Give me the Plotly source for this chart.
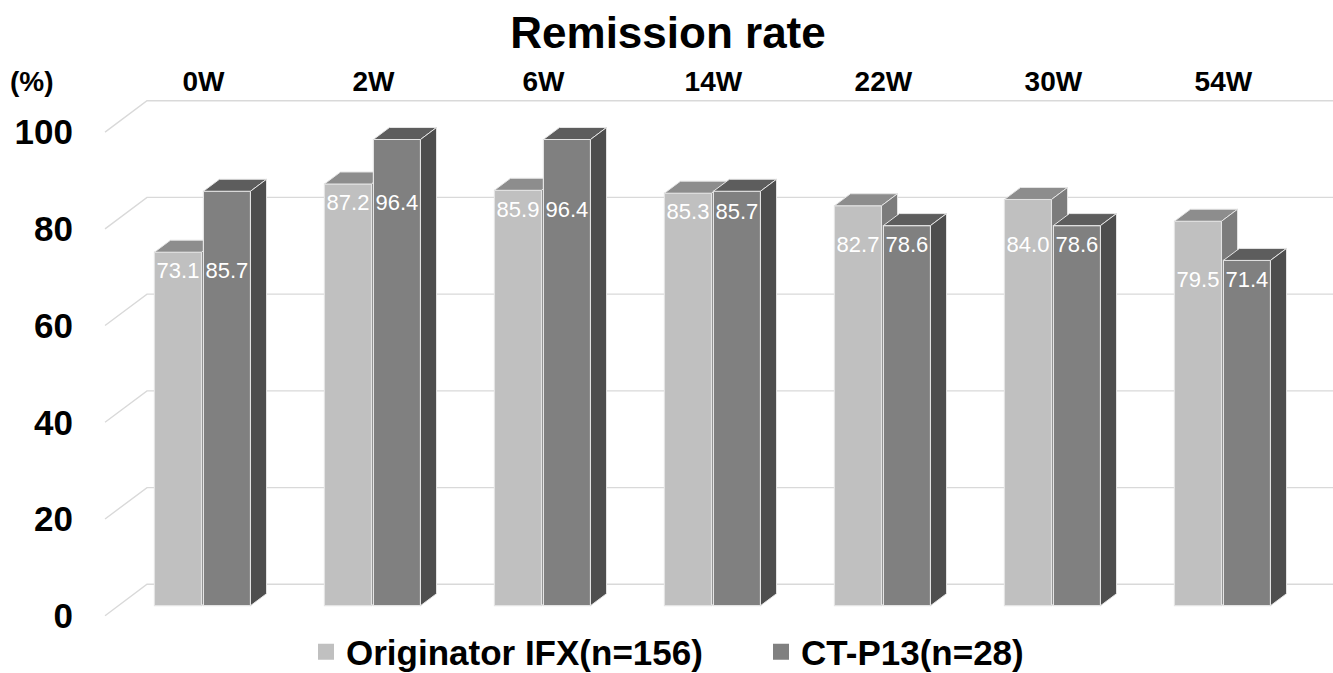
import plotly.graph_objects as go

# ---- data -------------------------------------------------------------
categories = ["0W", "2W", "6W", "14W", "22W", "30W", "54W"]
originator_ifx = [73.1, 87.2, 85.9, 85.3, 82.7, 84.0, 79.5]
ct_p13 = [85.7, 96.4, 96.4, 85.7, 78.6, 78.6, 71.4]
y_ticks = [0, 20, 40, 60, 80, 100]
series_names = ["Originator IFX(n=156)", "CT-P13(n=28)"]

# ---- page / plot geometry ---------------------------------------------
W, H = 1333, 673
M_L, M_R, M_T, M_B = 100, 0, 96, 48
PLOT_W = W - M_L - M_R
PLOT_H = H - M_T - M_B
PX_PER_CAT = 170.0          # horizontal pixels per category band
PX_PER_UNIT = 4.836         # vertical pixels per percent
BAND_LEFT_PX = 118.4        # left edge of the first band on the bar plane
ZERO_PX = 605.7             # y pixel of 0 on the bar plane

x0 = -0.5 - (BAND_LEFT_PX - M_L) / PX_PER_CAT
X_RANGE = [x0, x0 + PLOT_W / PX_PER_CAT]
y0 = (ZERO_PX - (H - M_B)) / PX_PER_UNIT
Y_RANGE = [y0, y0 + PLOT_H / PX_PER_UNIT]


def depth(d_px):
    """Oblique projection offset (axis units) for a depth of d_px pixels."""
    return (1.336 * d_px / PX_PER_CAT, d_px / PX_PER_UNIT)


BAR_DEPTH = depth(12)
BACK_WALL = depth(21.4)
FRONT_WALL = depth(-10)

BAR_W = 0.277
OFFSETS = [-0.288, 0.0]
FRONT = ["#c0c0c0", "#808080"]
TOP = ["#8d8d8d", "#5d5d5d"]
SIDE = ["#7c7c7c", "#4e4e4e"]
EDGE = "#e4e4e4"
FONT = "Liberation Sans, Arial, sans-serif"

fig = go.Figure()

# ---- wall gridlines ---------------------------------------------------
gx, gy = [], []
left = -0.5
for v in y_ticks:
    gx += [left + FRONT_WALL[0], left + BACK_WALL[0], 6.5 + BACK_WALL[0] + 0.2, None]
    gy += [v + FRONT_WALL[1], v + BACK_WALL[1], v + BACK_WALL[1], None]
fig.add_trace(go.Scatter(x=gx, y=gy, mode="lines", line=dict(color="#d9d9d9", width=1.4),
                         hoverinfo="skip", showlegend=False, zorder=0))

# ---- 3D columns -------------------------------------------------------
idx = list(range(len(categories)))
for s, values in enumerate([originator_ifx, ct_p13]):
    fig.add_trace(go.Bar(
        x=idx, y=values, width=BAR_W, offset=OFFSETS[s],
        marker=dict(color=FRONT[s], line=dict(color=EDGE, width=1.2)),
        name=series_names[s], showlegend=False, hoverinfo="skip", zorder=1 + 2 * s,
    ))
    tx, ty, sx, sy = [], [], [], []
    dx, dy = BAR_DEPTH
    for i, v in zip(idx, values):
        xl = i + OFFSETS[s]
        xr = xl + BAR_W
        tx += [xl, xr, xr + dx, xl + dx, xl, None]
        ty += [v, v, v + dy, v + dy, v, None]
        sx += [xr, xr, xr + dx, xr + dx, xr, None]
        sy += [0, v, v + dy, dy, 0, None]
    fig.add_trace(go.Scatter(x=tx, y=ty, mode="lines", fill="toself", fillcolor=TOP[s],
                             line=dict(color=EDGE, width=1), hoverinfo="skip",
                             showlegend=False, zorder=2 + 2 * s))
    fig.add_trace(go.Scatter(x=sx, y=sy, mode="lines", fill="toself", fillcolor=SIDE[s],
                             line=dict(color=EDGE, width=1), hoverinfo="skip",
                             showlegend=False, zorder=2 + 2 * s))

# ---- value labels (shared height within each week) ---------------------
lx, ly, lt = [], [], []
for i in idx:
    y_lab = min(originator_ifx[i], ct_p13[i]) - 4.3
    for s, values in enumerate([originator_ifx, ct_p13]):
        lx.append(i + OFFSETS[s] + BAR_W / 2)
        ly.append(y_lab)
        lt.append(f"{values[i]:.1f}")
fig.add_trace(go.Scatter(x=lx, y=ly, mode="text", text=lt,
                         textfont=dict(family=FONT, size=22, color="white"),
                         hoverinfo="skip", showlegend=False, zorder=6))

# ---- legend entries ---------------------------------------------------
for s in range(2):
    fig.add_trace(go.Scatter(x=[None], y=[None], mode="markers", name=series_names[s],
                             marker=dict(symbol="square", size=16, color=FRONT[s])))

fig.update_layout(
    width=W, height=H,
    margin=dict(l=M_L, r=M_R, t=M_T, b=M_B, pad=0, autoexpand=False),
    plot_bgcolor="white", paper_bgcolor="white",
    barmode="overlay",
    title=dict(text="Remission rate", x=668 / W, xref="container", xanchor="center",
               y=1 - 33 / H, yref="container", yanchor="middle",
               font=dict(family=FONT, size=44, color="black", weight="bold")),
    xaxis=dict(range=X_RANGE, side="top", tickmode="array", tickvals=idx, ticktext=categories,
               showgrid=False, zeroline=False, showline=False, ticks="",
               tickfont=dict(family=FONT, size=28, color="black", weight="bold"),
               ticklabelstandoff=-2),
    yaxis=dict(range=Y_RANGE, tickmode="array",
               tickvals=[v + FRONT_WALL[1] for v in y_ticks],
               ticktext=[str(v) for v in y_ticks],
               showgrid=False, zeroline=False, showline=False, ticks="",
               tickfont=dict(family=FONT, size=35, color="black", weight="bold"),
               ticklabelstandoff=26),
    legend=dict(orientation="h", xref="container", yref="container",
                x=306 / W, xanchor="left", y=1 - 652 / H, yanchor="middle",
                font=dict(family=FONT, size=35, color="black", weight="bold"),
                entrywidth=410, entrywidthmode="pixels", itemwidth=30,
                bgcolor="rgba(0,0,0,0)"),
    annotations=[dict(text="(%)", xref="paper", yref="paper",
                      x=(32 - M_L) / PLOT_W, y=1 - (82 - M_T) / PLOT_H,
                      xanchor="center", yanchor="middle", showarrow=False,
                      font=dict(family=FONT, size=28, color="black", weight="bold"))],
)

fig.write_html("out.html")
